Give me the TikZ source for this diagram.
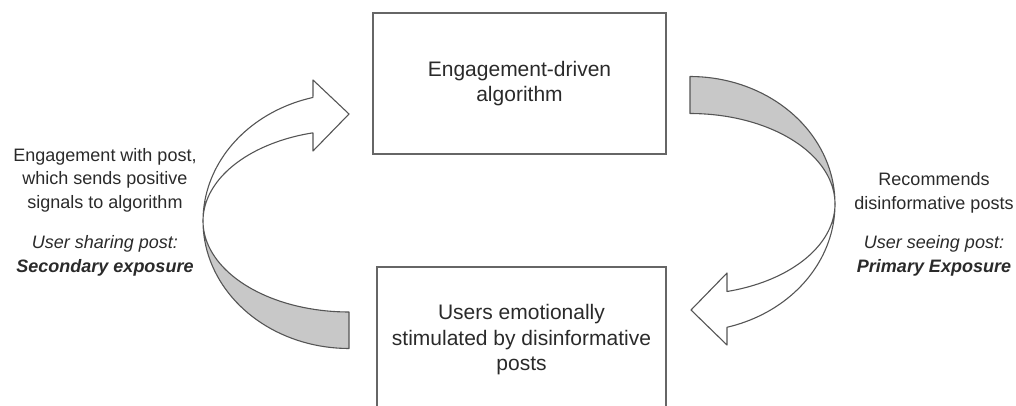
\documentclass[tikz,border=0pt]{standalone}
\usepackage{fontspec}
\setmainfont{Liberation Sans}
\definecolor{linegray}{HTML}{555555}
\definecolor{boxgray}{HTML}{666666}
\definecolor{shade}{HTML}{C8C8C8}
\definecolor{textgray}{HTML}{2A2A2A}
\begin{document}
\begin{tikzpicture}[x=1pt,y=-1pt,
  ln/.style={draw=linegray, line width=1.1pt, line join=round},
  box/.style={draw=boxgray, line width=1.3pt, align=center, text=textgray,
              font=\fontsize{21}{25.5}\selectfont, inner sep=0pt},
  txt/.style={text=textgray, align=center, font=\fontsize{18}{23.5}\selectfont, inner sep=0pt}]
\useasboundingbox (0,0) rectangle (1016,406);
\clip (0,0) rectangle (1016,406);

% boxes
\node[box, minimum width=293pt, minimum height=141pt] (alg) at (519.5,83.5)
  {Engagement-driven\\algorithm};
\node[box, minimum width=289pt, minimum height=146pt] (users) at (521.5,340)
  {Users emotionally\\stimulated by disinformative\\posts};

% side texts
\node[txt] (lefta) at (105,180) {Engagement with post,\\which sends positive\\signals to algorithm};
\node[txt] (leftb) at (105,256) {\itshape User sharing post:\\\bfseries\itshape Secondary exposure};
\node[txt] (righta) at (934,193) {Recommends\\disinformative posts};
\node[txt] (rightb) at (934,256) {\itshape User seeing post:\\\bfseries\itshape Primary Exposure};

% right curved arrow (algorithm -> users)
\draw[ln, fill=shade]
  plot[domain=-90:0, samples=40] ({690+145*cos(\x)},{204+127.5*sin(\x)})
  -- plot[domain=0:-90, samples=40] ({690+145*cos(\x)},{204+90.5*sin(\x)})
  -- cycle;
\draw[ln, fill=white]
  plot[domain=0:75.2, samples=40] ({690+145*cos(\x)},{204+127.5*sin(\x)})
  -- (727,345) -- (691,310) -- (727,273)
  -- plot[domain=75.2:0, samples=40] ({690+145*cos(\x)},{204+90.5*sin(\x)})
  -- cycle;

% left curved arrow (users -> algorithm)
\draw[ln, fill=shade]
  plot[domain=90:180, samples=40] ({349+146*cos(\x)},{221+127.5*sin(\x)})
  -- plot[domain=180:90, samples=40] ({349+146*cos(\x)},{221+91*sin(\x)})
  -- cycle;
\draw[ln, fill=white]
  plot[domain=180:255.7, samples=40] ({349+146*cos(\x)},{221+127.5*sin(\x)})
  -- (313,80) -- (349,114) -- (313,151)
  -- plot[domain=255.7:180, samples=40] ({349+146*cos(\x)},{221+91*sin(\x)})
  -- cycle;
\end{tikzpicture}
\end{document}
